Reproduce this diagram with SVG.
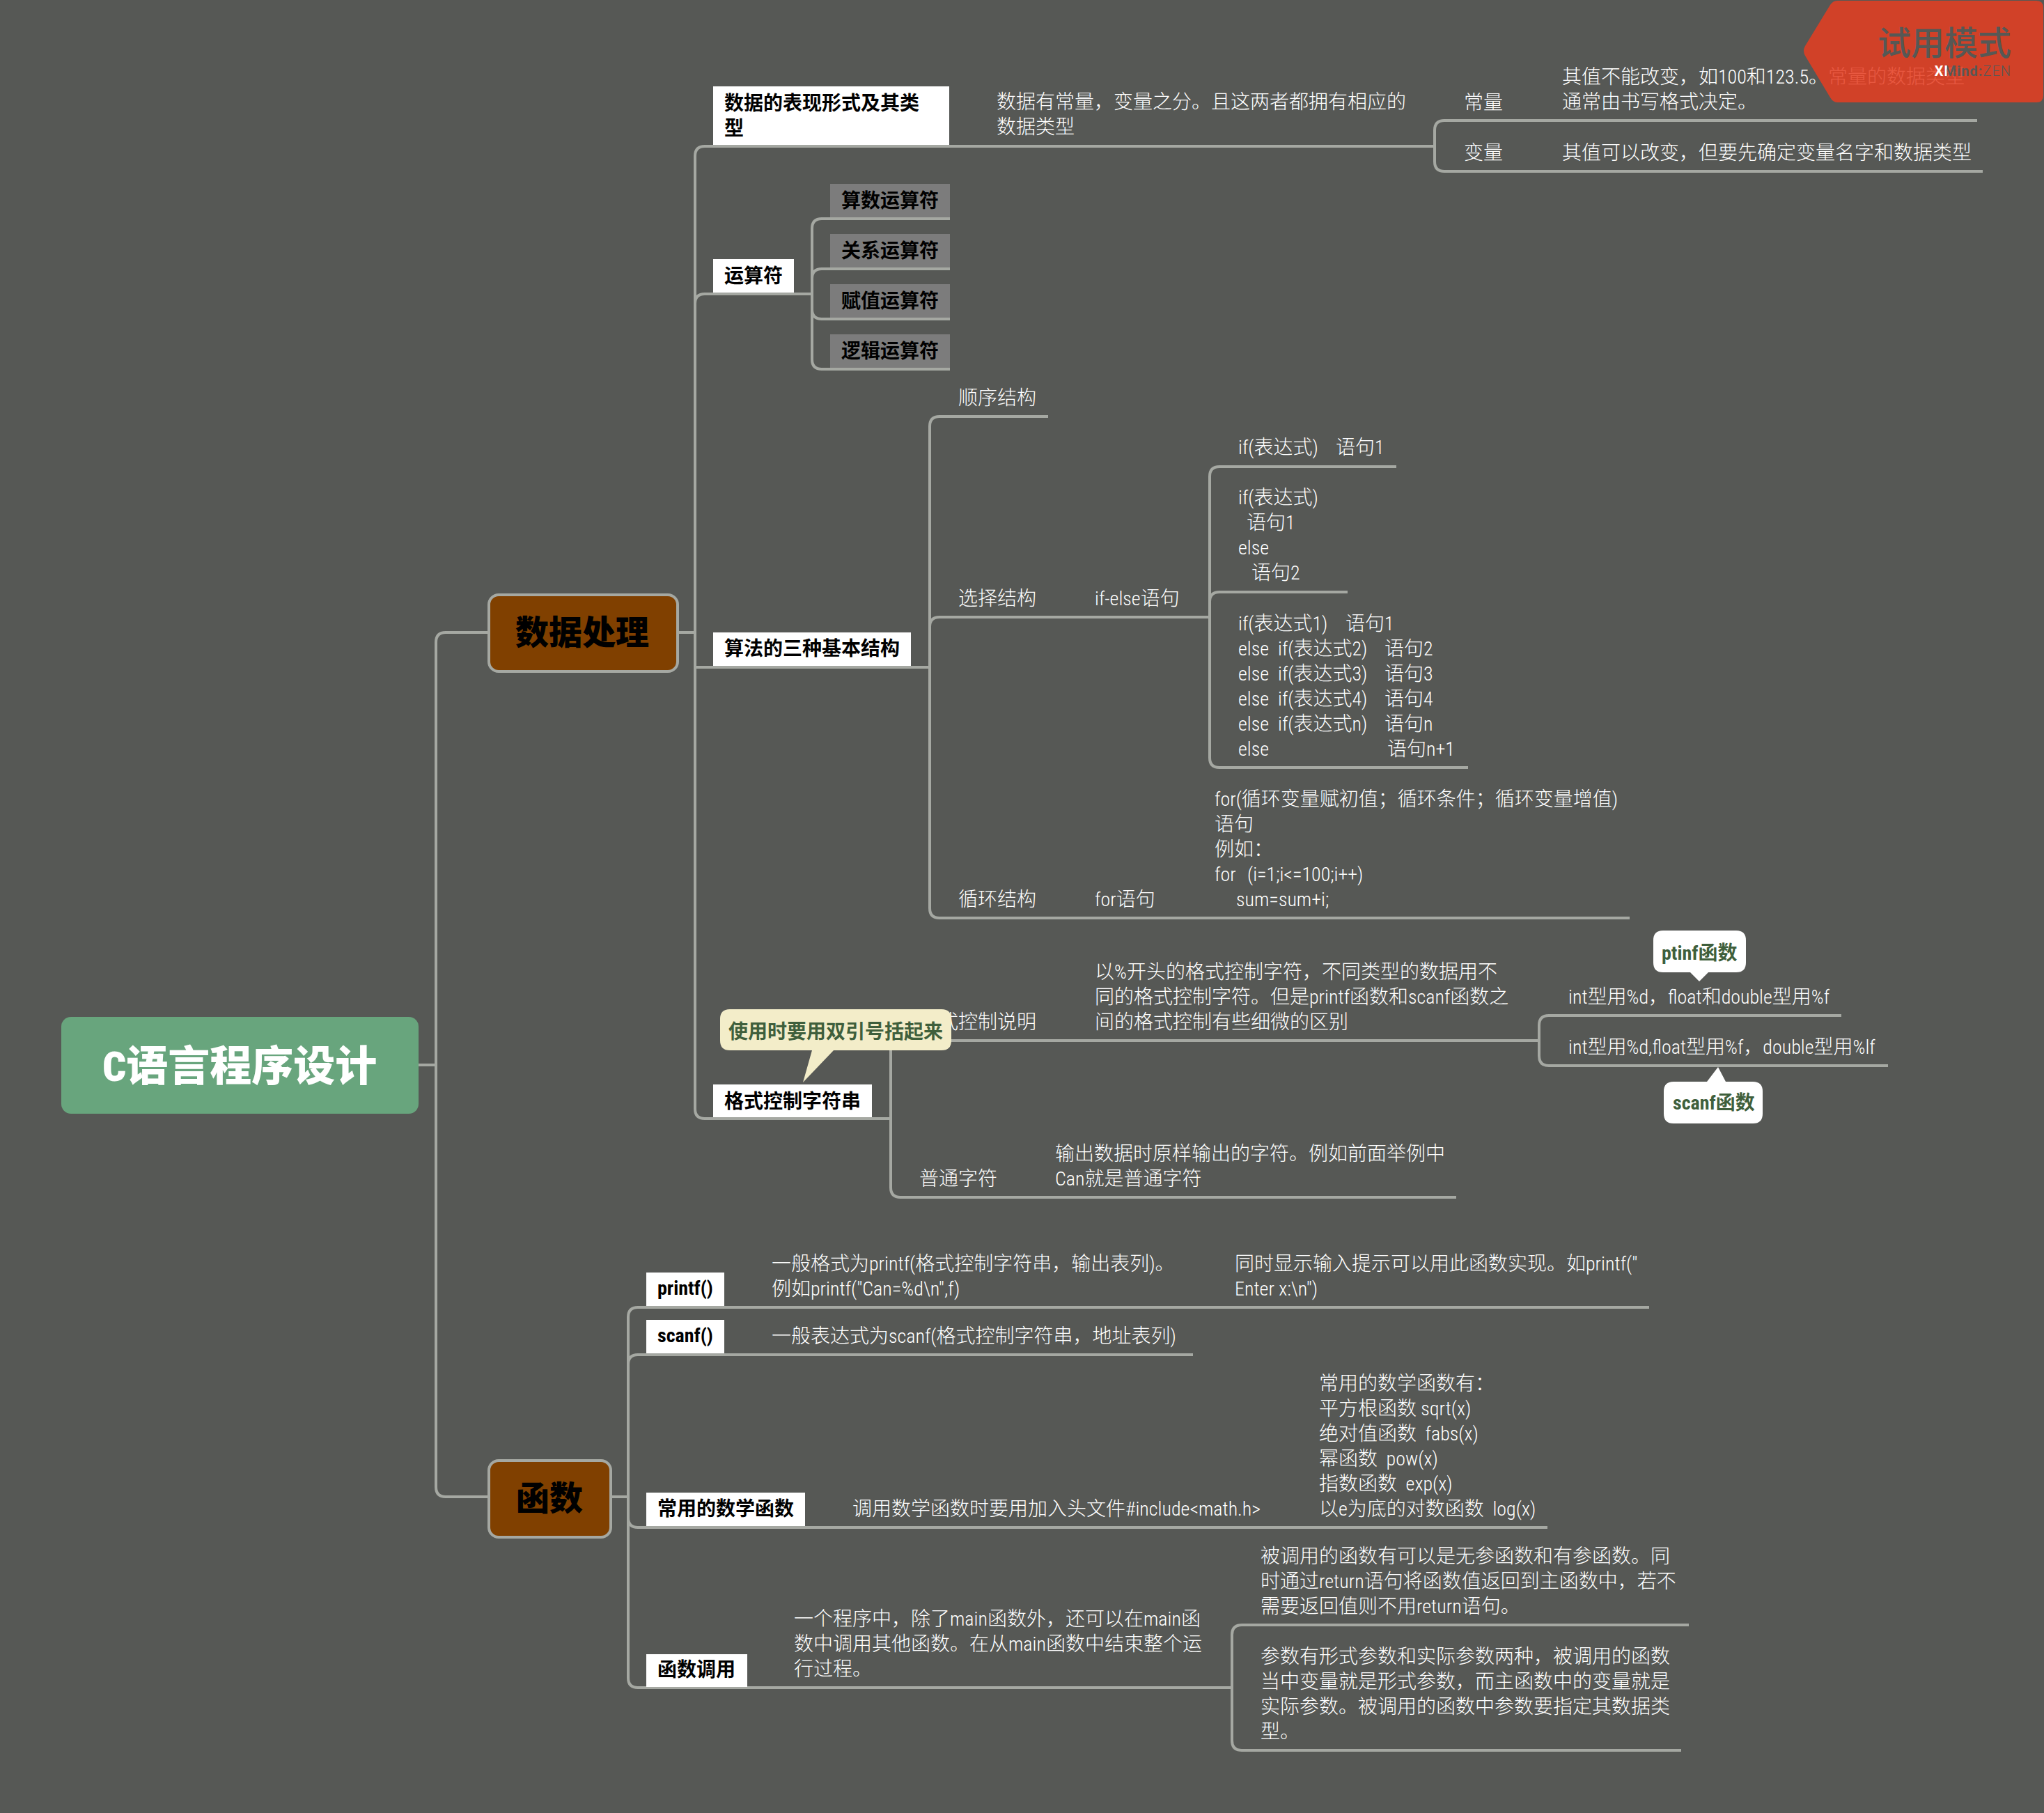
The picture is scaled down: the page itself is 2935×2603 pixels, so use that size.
<svg xmlns="http://www.w3.org/2000/svg" width="2935" height="2603" viewBox="0 0 2935 2603">
<style>
text{font-family:"Roboto Condensed",Roboto,"Noto Sans CJK SC",sans-serif;font-stretch:condensed;white-space:pre}
.t{font-size:28px;fill:#fff;font-weight:300}
.b{font-size:28px;fill:#000;font-weight:700}
.g{font-size:28px;fill:#3f5f3c;font-weight:700}
.l{fill:none;stroke:#a5a8a2;stroke-width:4}
.wr{fill:#fff}
.gr{fill:#7c7c7c}
.main{fill:#804000;stroke:#a5a8a2;stroke-width:4}
.h{font-size:48px;fill:#000;font-weight:900}
</style>
<defs><linearGradient id="xm" gradientUnits="userSpaceOnUse" x1="2778" x2="2892" y1="0" y2="0"><stop offset="0.15" stop-color="#fff"/><stop offset="0.16" stop-color="#565855"/></linearGradient></defs>
<rect width="2935" height="2603" fill="#565855"/>
<g id="connectors" class="l">
<path d="M601 1529H626M702 908H640Q626 908 626 922V2135Q626 2149 640 2149H702"/>
<path d="M973 908H998M2060 210H1012Q998 210 998 224V1592Q998 1606 1012 1606H1279M998 436Q998 422 1012 422H1166M998 958H1335"/>
<path d="M1364 314H1180Q1166 314 1166 328V516Q1166 530 1180 530H1364M1166 400Q1166 386 1180 386H1364M1166 444Q1166 458 1180 458H1364"/>
<path d="M1505 598H1349Q1335 598 1335 612V1304Q1335 1318 1349 1318H2340M1335 900Q1335 886 1349 886H1737"/>
<path d="M2005 670H1751Q1737 670 1737 684V1088Q1737 1102 1751 1102H2108M1737 864Q1737 850 1751 850H1935"/>
<path d="M2210 1494H1293Q1279 1494 1279 1508V1705Q1279 1719 1293 1719H2091"/>
<path d="M2644 1458H2224Q2210 1458 2210 1472V1516Q2210 1530 2224 1530H2711"/>
<path d="M2839 173H2074Q2060 173 2060 187V232Q2060 246 2074 246H2847"/>
<path d="M877 2149H902M2368 1877H916Q902 1877 902 1891V2409Q902 2423 916 2423H1769M902 1959Q902 1945 916 1945H1713M902 2179Q902 2193 916 2193H2222"/>
<path d="M2425 2333H1783Q1769 2333 1769 2347V2499Q1769 2513 1783 2513H2414"/>
</g>
<g id="root"><rect x="88" y="1460" width="513" height="139" rx="14" fill="#68a57d"/><text x="147" y="1552" font-size="60" font-weight="900" fill="#fff">C语言程序设计</text></g>
<g id="n-data"><rect class="main" x="702" y="854" width="271" height="110" rx="14"/><text class="h" x="740" y="925">数据处理</text></g>
<g id="n-func"><rect class="main" x="702" y="2097" width="175" height="110" rx="14"/><text class="h" x="741" y="2168">函数</text></g>

<g id="n-repr"><rect class="wr" x="1024" y="124" width="339" height="84"/><text class="b" x="1040" y="158">数据的表现形式及其类</text><text class="b" x="1040" y="194">型</text></g>
<g id="n-repr-d"><text class="t" x="1431" y="156">数据有常量，变量之分。且这两者都拥有相应的</text><text class="t" x="1431" y="192">数据类型</text></g>
<g id="n-const"><text class="t" x="2102" y="157">常量</text><text class="t" x="2243" y="120">其值不能改变，如100和123.5。常量的数据类型</text><text class="t" x="2243" y="156">通常由书写格式决定。</text></g>
<g id="n-var"><text class="t" x="2102" y="229">变量</text><text class="t" x="2243" y="229">其值可以改变，但要先确定变量名字和数据类型</text></g>

<g id="n-ops"><rect class="wr" x="1024" y="372" width="116" height="48"/><text class="b" x="1040" y="406">运算符</text></g>
<g id="n-op1"><rect class="gr" x="1192" y="264" width="172" height="48"/><text class="b" x="1208" y="298">算数运算符</text></g>
<g id="n-op2"><rect class="gr" x="1192" y="336" width="172" height="48"/><text class="b" x="1208" y="370">关系运算符</text></g>
<g id="n-op3"><rect class="gr" x="1192" y="408" width="172" height="48"/><text class="b" x="1208" y="442">赋值运算符</text></g>
<g id="n-op4"><rect class="gr" x="1192" y="480" width="172" height="48"/><text class="b" x="1208" y="514">逻辑运算符</text></g>

<g id="n-algo"><rect class="wr" x="1024" y="908" width="284" height="48"/><text class="b" x="1040" y="941">算法的三种基本结构</text></g>
<g id="n-seq"><text class="t" x="1376" y="581">顺序结构</text></g>
<g id="n-sel"><text class="t" x="1376" y="869">选择结构</text><text class="t" x="1572" y="869">if-else语句</text></g>
<g id="n-if1"><text class="t" x="1778" y="652">if(表达式)   <tspan x="1918">语句1</tspan></text></g>
<g id="n-if2"><text class="t" x="1778" y="724">if(表达式)</text><text class="t" x="1790" y="760">语句1</text><text class="t" x="1778" y="796">else</text><text class="t" x="1797" y="832">语句2</text></g>
<g id="n-if3"><text class="t" x="1778" y="905">if(表达式1)   <tspan x="1932">语句1</tspan></text>
<text class="t" x="1778" y="941">else  <tspan x="1835">if(表达式2)   </tspan><tspan x="1988">语句2</tspan></text>
<text class="t" x="1778" y="977">else  <tspan x="1835">if(表达式3)   </tspan><tspan x="1988">语句3</tspan></text>
<text class="t" x="1778" y="1013">else  <tspan x="1835">if(表达式4)   </tspan><tspan x="1988">语句4</tspan></text>
<text class="t" x="1778" y="1049">else  <tspan x="1835">if(表达式n)   </tspan><tspan x="1988">语句n</tspan></text>
<text class="t" x="1778" y="1085">else  <tspan x="1992">语句n+1</tspan></text></g>
<g id="n-loop"><text class="t" x="1376" y="1301">循环结构</text><text class="t" x="1572" y="1301">for语句</text></g>
<g id="n-for"><text class="t" x="1744" y="1157">for(循环变量赋初值；循环条件；循环变量增值)</text><text class="t" x="1744" y="1193">语句</text><text class="t" x="1744" y="1229">例如：</text><text class="t" x="1744" y="1265">for  <tspan x="1791">(i=1;i&lt;=100;i++)</tspan></text><text class="t" x="1775" y="1301">sum=sum+i;</text></g>

<g id="n-fmt"><rect class="wr" x="1024" y="1557" width="228" height="47"/><text class="b" x="1040" y="1591">格式控制字符串</text></g>
<g id="n-fmtc"><text class="t" x="1320" y="1477">格式控制说明</text><text class="t" x="1572" y="1405">以%开头的格式控制字符，不同类型的数据用不</text><text class="t" x="1572" y="1441">同的格式控制字符。但是printf函数和scanf函数之</text><text class="t" x="1572" y="1477">间的格式控制有些细微的区别</text></g>
<g id="n-callout"><path d="M1048 1449H1352Q1366 1449 1366 1463V1494Q1366 1508 1352 1508H1197L1153 1554L1166 1508H1048Q1034 1508 1034 1494V1463Q1034 1449 1048 1449Z" fill="#f3edc9"/><text class="g" x="1046" y="1491">使用时要用双引号括起来</text></g>
<g id="n-p"><text class="t" x="2252" y="1441">int型用%d，float和double型用%f</text></g>
<g id="n-s"><text class="t" x="2252" y="1513">int型用%d,float型用%f，double型用%lf</text></g>
<g id="n-ptinf"><path d="M2388 1336H2493Q2507 1336 2507 1350V1382Q2507 1396 2493 1396H2453L2440 1409L2427 1396H2388Q2374 1396 2374 1382V1350Q2374 1336 2388 1336Z" fill="#fff"/><text class="g" x="2386" y="1378">ptinf函数</text></g>
<g id="n-scanfb"><path d="M2403 1553H2451L2467 1532L2478 1553H2517Q2531 1553 2531 1567V1599Q2531 1613 2517 1613H2403Q2389 1613 2389 1599V1567Q2389 1553 2403 1553Z" fill="#fff"/><text class="g" x="2402" y="1593">scanf函数</text></g>
<g id="n-plain"><text class="t" x="1320" y="1702">普通字符</text><text class="t" x="1515" y="1666">输出数据时原样输出的字符。例如前面举例中</text><text class="t" x="1515" y="1702">Can就是普通字符</text></g>

<g id="n-printf"><rect class="wr" x="928" y="1827" width="112" height="48"/><text class="b" x="944" y="1859">printf()</text></g>
<g id="n-printf-d"><text class="t" x="1108" y="1824">一般格式为printf(格式控制字符串，输出表列)。</text><text class="t" x="1108" y="1860">例如printf("Can=%d\n",f)</text><text class="t" x="1773" y="1824">同时显示输入提示可以用此函数实现。如printf("</text><text class="t" x="1773" y="1860">Enter x:\n")</text></g>
<g id="n-scanf"><rect class="wr" x="928" y="1895" width="112" height="48"/><text class="b" x="944" y="1927">scanf()</text></g>
<g id="n-scanf-d"><text class="t" x="1108" y="1928">一般表达式为scanf(格式控制字符串，地址表列)</text></g>
<g id="n-math"><rect class="wr" x="928" y="2143" width="228" height="48"/><text class="b" x="944" y="2176">常用的数学函数</text></g>
<g id="n-math-d"><text class="t" x="1224" y="2176">调用数学函数时要用加入头文件#include&lt;math.h&gt;</text><text class="t" x="1894" y="1996">常用的数学函数有：</text><text class="t" x="1894" y="2032">平方根函数 sqrt(x)</text><text class="t" x="1894" y="2068">绝对值函数  fabs(x)</text><text class="t" x="1894" y="2104">幂函数  pow(x)</text><text class="t" x="1894" y="2140">指数函数  exp(x)</text><text class="t" x="1894" y="2176">以e为底的对数函数  log(x)</text></g>
<g id="n-call"><rect class="wr" x="928" y="2375" width="145" height="47"/><text class="b" x="944" y="2407">函数调用</text></g>
<g id="n-call-d"><text class="t" x="1140" y="2334">一个程序中，除了main函数外，还可以在main函</text><text class="t" x="1140" y="2370">数中调用其他函数。在从main函数中结束整个运</text><text class="t" x="1140" y="2406">行过程。</text></g>
<g id="n-call-1"><text class="t" x="1810" y="2244">被调用的函数有可以是无参函数和有参函数。同</text><text class="t" x="1810" y="2280">时通过return语句将函数值返回到主函数中，若不</text><text class="t" x="1810" y="2316">需要返回值则不用return语句。</text></g>
<g id="n-call-2"><text class="t" x="1810" y="2388">参数有形式参数和实际参数两种，被调用的函数</text><text class="t" x="1810" y="2424">当中变量就是形式参数，而主函数中的变量就是</text><text class="t" x="1810" y="2460">实际参数。被调用的函数中参数要指定其数据类</text><text class="t" x="1810" y="2496">型。</text></g>

<g id="badge"><path d="M2638 1H2924Q2934 1 2934 11V137Q2934 147 2924 147H2638Q2632 147 2628 140L2592 80Q2588 73 2592 66L2628 7Q2632 1 2638 1Z" fill="#e43e22" opacity="0.864"/><text x="2888" y="79" text-anchor="end" font-size="48" font-weight="500" fill="#565855">试用模式</text><text x="2888" y="109" text-anchor="end" font-size="20" letter-spacing="1" style="font-family:Roboto,sans-serif;font-stretch:normal" fill="url(#xm)" font-weight="700">XMind:<tspan font-weight="300" fill="#565855">ZEN</tspan></text></g>
</svg>
